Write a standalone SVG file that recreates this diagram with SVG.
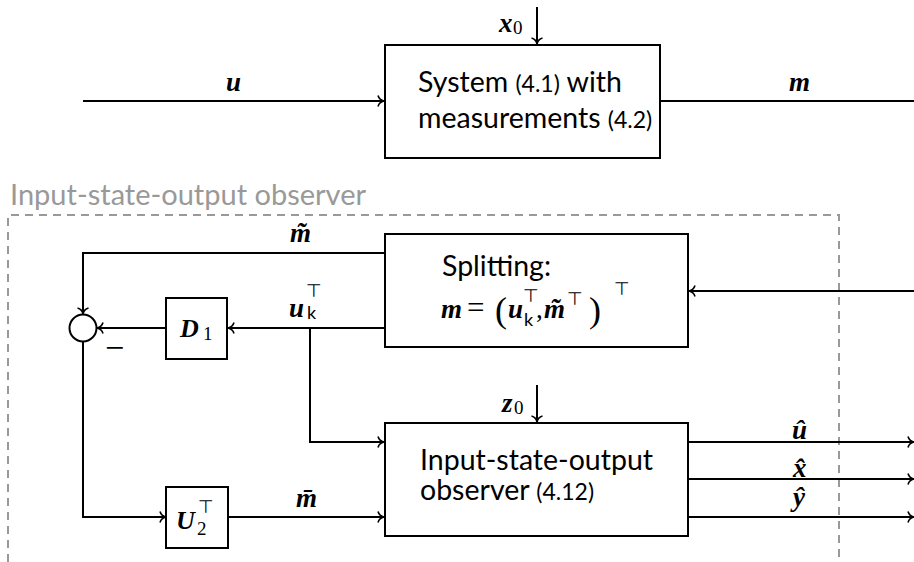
<svg xmlns="http://www.w3.org/2000/svg" width="914" height="562" viewBox="0 0 914 562">
<style>
.box{fill:#fff;stroke:#000;stroke-width:2}
.ln{fill:none;stroke:#000;stroke-width:2}
.txt{font-family:Lato,"Liberation Sans",sans-serif;font-size:28.5px;fill:#000}
.sm{font-size:23px}
.mb{font-family:"Liberation Serif",serif;font-weight:bold;font-style:italic;font-size:27px;fill:#000}
.rm{font-family:"Liberation Serif",serif;font-weight:normal;font-style:normal;font-size:19px}
.ss{font-family:Lato,"Liberation Sans",sans-serif;font-weight:normal;font-style:normal;font-size:18px}
.top{font-family:"DejaVu Sans",sans-serif;font-weight:normal;font-style:normal;font-size:18px;fill:#000}
.dash{fill:none;stroke:#999;stroke-width:2;stroke-dasharray:8 6}
.title{font-family:Lato,"Liberation Sans",sans-serif;font-size:29px;fill:#999}
</style>
<defs>
<marker id="arr" markerUnits="userSpaceOnUse" markerWidth="14" markerHeight="14" viewBox="-8 -7 10 14" refX="0" refY="0" orient="auto">
<path d="M-6,-5.5 C-5,-2 -2.5,-0.5 0,0 C-2.5,0.5 -5,2 -6,5.5" fill="none" stroke="#000" stroke-width="1.6"/>
</marker>
</defs>
<rect width="914" height="562" fill="#fff"/>

<g id="observer-frame">
<path class="dash" d="M8,562 V215 H839 V562"/>
<text class="title" x="10" y="205">Input-state-output observer</text>
</g>

<g id="connectors">
<path class="ln" d="M537,7 V44" marker-end="url(#arr)"/>
<path class="ln" d="M83,101 H384" marker-end="url(#arr)"/>
<path class="ln" d="M660,101 H914"/>
<path class="ln" d="M914,291 H689" marker-end="url(#arr)"/>
<path class="ln" d="M385,253 H83 V314" marker-end="url(#arr)"/>
<path class="ln" d="M385,328 H228" marker-end="url(#arr)"/>
<path class="ln" d="M166,328 H97" marker-end="url(#arr)"/>
<path class="ln" d="M310,328 V442 H384" marker-end="url(#arr)"/>
<path class="ln" d="M83,342 V517 H166" marker-end="url(#arr)"/>
<path class="ln" d="M228,517 H384" marker-end="url(#arr)"/>
<path class="ln" d="M537,385 V422" marker-end="url(#arr)"/>
<path class="ln" d="M688,442 H914" marker-end="url(#arr)"/>
<path class="ln" d="M688,479 H914" marker-end="url(#arr)"/>
<path class="ln" d="M688,517 H914" marker-end="url(#arr)"/>
<text class="mb" x="499" y="32">x<tspan class="rm" x="513" y="34">0</tspan></text>
<text class="mb" x="226" y="91">u</text>
<text class="mb" x="789" y="91">m</text>
<text class="mb" x="290" y="242">m&#x303;</text>
<text class="mb" x="289" y="317">u<tspan class="ss" x="307" y="319">k</tspan><tspan class="top" x="306" y="297">⊤</tspan></text>
<text class="mb" x="296" y="507">m&#x304;</text>
<text class="mb" x="502" y="412">z<tspan class="rm" x="514" y="414">0</tspan></text>
<text class="mb" x="792" y="439">û</text>
<text class="mb" x="793" y="477">x&#x302;</text>
<text class="mb" x="793" y="506">ŷ</text>
<text style="font-family:'Liberation Serif',serif;font-size:34px" x="105" y="359">−</text>
</g>

<g id="system">
<rect class="box" x="385" y="45" width="275" height="113"/>
<text class="txt" x="418" y="92">System <tspan class="sm">(4.1)</tspan> with</text>
<text class="txt" x="418" y="128">measurements <tspan class="sm">(4.2)</tspan></text>
</g>

<g id="splitting">
<rect class="box" x="385" y="234" width="303" height="113"/>
<text class="txt" x="442" y="276">Splitting:</text>
<text class="mb" x="441" y="318">m<tspan class="rm" x="467" y="318" style="font-size:31px">=</tspan><tspan class="rm" x="495" y="322" style="font-size:36px">(</tspan><tspan x="508" y="318">u</tspan><tspan class="top" x="523" y="302">⊤</tspan><tspan class="ss" x="524" y="326">k</tspan><tspan class="rm" x="536" y="318" style="font-size:27px">,</tspan><tspan x="544" y="318">m&#x303;</tspan><tspan class="top" x="567" y="305">⊤</tspan><tspan class="rm" x="589" y="322" style="font-size:36px">)</tspan><tspan class="top" x="614" y="295">⊤</tspan></text>
</g>

<g id="sum">
<circle cx="83" cy="328" r="13.5" fill="#fff" stroke="#000" stroke-width="2"/>
</g>

<g id="D1">
<rect class="box" x="166" y="298" width="61" height="61"/>
<text class="mb" x="180" y="337" style="font-size:26px">D<tspan class="rm" x="203" y="340">1</tspan></text>
</g>

<g id="U2">
<rect class="box" x="166" y="487" width="62" height="61"/>
<text class="mb" x="176" y="529" style="font-size:26px">U<tspan class="rm" x="197" y="535">2</tspan><tspan class="top" x="198" y="513">⊤</tspan></text>
</g>

<g id="iso-observer">
<rect class="box" x="385" y="423" width="303" height="113"/>
<text class="txt" x="420" y="470">Input-state-output</text>
<text class="txt" x="420" y="500">observer <tspan class="sm">(4.12)</tspan></text>
</g>
</svg>
